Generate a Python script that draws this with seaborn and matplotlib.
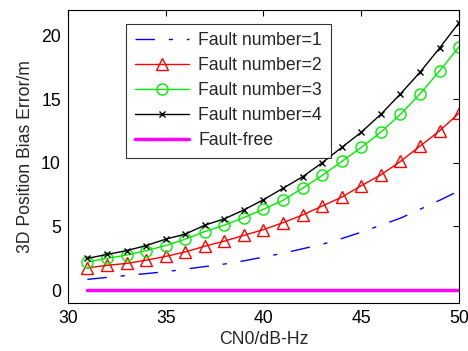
import pandas as pd
import numpy as np
import matplotlib
matplotlib.use("Agg")
import matplotlib.pyplot as plt
import seaborn as sns

# CN0 values (dB-Hz)
cn0 = list(range(31, 51))

# 3D position bias error (m)
fault1 = [0.85, 1.0, 1.15, 1.3, 1.45, 1.65, 1.85, 2.05, 2.3, 2.6,
          2.9, 3.25, 3.6, 4.05, 4.55, 5.1, 5.65, 6.35, 7.05, 7.8]
fault2 = [1.75, 1.95, 2.1, 2.35, 2.65, 3.0, 3.45, 3.85, 4.3, 4.75,
          5.3, 5.9, 6.6, 7.3, 8.2, 9.05, 10.1, 11.3, 12.5, 13.9]
fault3 = [2.2, 2.5, 2.75, 3.1, 3.5, 4.0, 4.6, 5.1, 5.7, 6.35,
          7.05, 8.0, 9.0, 10.1, 11.2, 12.4, 13.8, 15.4, 17.2, 19.1]
fault4 = [2.5, 2.8, 3.1, 3.5, 4.0, 4.4, 5.1, 5.6, 6.3, 7.1,
          8.0, 8.9, 10.0, 11.2, 12.4, 13.8, 15.4, 17.1, 19.0, 21.0]
fault_free = [0.0] * len(cn0)

labels = ["Fault number=1", "Fault number=2", "Fault number=3",
          "Fault number=4", "Fault-free"]
series = [fault1, fault2, fault3, fault4, fault_free]

df = pd.concat([pd.DataFrame({"CN0": cn0, "err": s, "case": lab})
                for s, lab in zip(series, labels)], ignore_index=True)

sns.set_style("white")
plt.rcParams['font.family'] = ['Liberation Sans', 'DejaVu Sans']
fs = 12.7

fig = plt.figure(figsize=(4.68, 3.51), dpi=100)
ax = fig.add_axes([0.145, 0.137, 0.836, 0.835])

styles = {
    "Fault number=1": dict(color="#0000ff", linestyle=(0, (14, 10, 3, 10)), lw=1.0),
    "Fault number=2": dict(color="#ff0000", marker="^", markersize=9,
                           markerfacecolor="none", markeredgecolor="#ff0000",
                           markeredgewidth=1.0, lw=1.0),
    "Fault number=3": dict(color="#00ee00", marker="o", markersize=8,
                           markerfacecolor="none", markeredgecolor="#00ee00",
                           markeredgewidth=1.0, lw=1.0),
    "Fault number=4": dict(color="black", marker="x", markersize=5,
                           markeredgecolor="black", markeredgewidth=1.0, lw=1.0),
    "Fault-free": dict(color="#ff00ff", lw=2.5),
}

for lab in labels:
    sns.lineplot(data=df[df["case"] == lab], x="CN0", y="err", ax=ax,
                 label=lab, **styles[lab])

ax.set_xlim(30, 50)
ax.set_ylim(-1, 22)
ax.set_xticks([30, 35, 40, 45, 50])
ax.set_yticks([0, 5, 10, 15, 20])
ax.set_xlabel("CN0/dB-Hz", fontsize=fs, labelpad=3)
ax.set_ylabel("3D Position Bias Error/m", fontsize=fs, labelpad=5)
ax.tick_params(direction="in", top=True, right=True, labelsize=fs,
               length=4, width=0.8, colors="black", pad=5)
for sp in ax.spines.values():
    sp.set_color("black")
    sp.set_linewidth(0.8)

leg = ax.legend(loc="upper left", bbox_to_anchor=(0.148, 0.953),
                fontsize=fs, handlelength=3.1, frameon=True, fancybox=False,
                borderaxespad=0, borderpad=0.5, labelspacing=0.45,
                handletextpad=0.5)
leg.get_frame().set_edgecolor("black")
leg.get_frame().set_linewidth(0.8)

fig.savefig("out.png", dpi=100)
